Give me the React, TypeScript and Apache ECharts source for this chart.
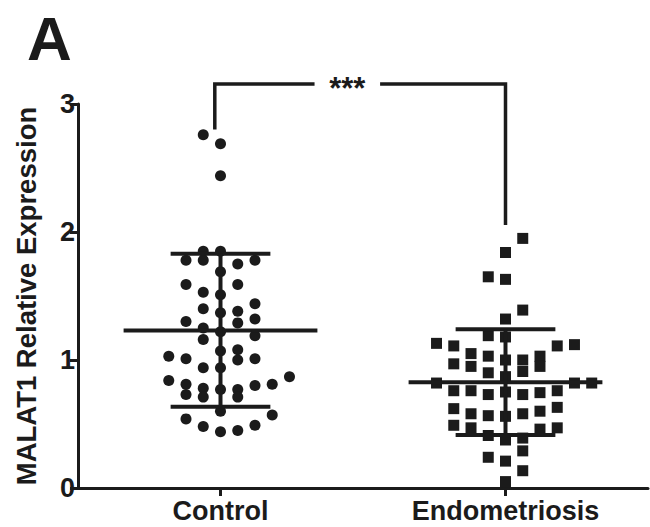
import React, { useEffect, useRef } from "react";
import * as echarts from "echarts";

const categories = ["Control", "Endometriosis"];
const groupCenters = [1, 3];
const yTicks = [0, 1, 2, 3];
const JITTER = 0.121;

// [column offset, value]
const controlPoints: number[][] = [
  [-1, 2.76], [0, 2.69], [0, 2.44], [-1, 1.85], [0, 1.85], [-2, 1.78], [-1, 1.78], [1, 1.75], [2, 1.78],
  [0, 1.69], [-2, 1.59], [-1, 1.53], [1, 1.59], [0, 1.51], [-1, 1.40], [2, 1.44], [0, 1.37], [1, 1.38],
  [2, 1.32], [-2, 1.30], [1, 1.29], [-1, 1.25], [0, 1.22], [-1, 1.16], [2, 1.19], [0, 1.07], [1, 1.08],
  [-3, 1.03], [-2, 1.01], [1, 1.0], [2, 1.01], [-1, 0.94], [0, 0.94], [4, 0.87], [-3, 0.84], [3, 0.81],
  [-2, 0.81], [2, 0.80], [-1, 0.78], [0, 0.77], [1, 0.77], [-2, 0.73], [-1, 0.71], [1, 0.71], [0, 0.60],
  [-2, 0.54], [3, 0.57], [-1, 0.48], [2, 0.49], [0, 0.44], [1, 0.45],
];

const endoPoints: number[][] = [
  [1, 1.95], [0, 1.84], [-1, 1.65], [0, 1.63], [1, 1.39], [0, 1.32], [-1, 1.19], [0, 1.18], [-4, 1.13],
  [-3, 1.11], [3, 1.11], [4, 1.12], [-2, 1.05], [2, 1.03], [2, 0.95], [1, 1.0], [1, 0.91], [-1, 1.03],
  [-3, 0.97], [-2, 0.95], [0, 1.0], [-1, 0.9], [0, 0.87], [-4, 0.82], [4, 0.82], [5, 0.82], [-3, 0.76],
  [-2, 0.76], [-1, 0.73], [1, 0.73], [2, 0.745], [3, 0.76], [0, 0.75], [-3, 0.62], [-2, 0.58], [-1, 0.565],
  [1, 0.58], [2, 0.6], [3, 0.63], [0, 0.56], [-3, 0.49], [-2, 0.47], [3, 0.47], [2, 0.46], [-1, 0.41],
  [0, 0.375], [1, 0.39], [1, 0.29], [-1, 0.24], [0, 0.21], [1, 0.135], [0, 0.05],
];

const means = [1.23, 0.826];
const sdUpper = [1.83, 1.24];
const sdLower = [0.635, 0.414];

// significance bracket: [leftX, leftBottom, barY, rightX, rightBottom]
const bracket = [0.96, 2.8, 3.156, 3.0, 2.055];
const bracketGap = [1.66, 2.12];
const sigLabel = "***";

const INK = "#1b1b1b";
const FONT = "'Liberation Sans', Arial, Helvetica, sans-serif";

export default function App() {
  const ref = useRef<HTMLDivElement>(null);
  useEffect(() => {
    if (!ref.current) return;
    const chart = echarts.init(ref.current, null, { renderer: "svg" });
    const toXY = (pts: number[][], c: number) => pts.map((p) => [c + p[0] * JITTER, p[1]]);

    chart.setOption({
      animation: false,
      grid: { left: 78, right: 2, top: 104, bottom: 39, containLabel: false },
      xAxis: {
        type: "value",
        min: 0,
        max: 4,
        axisLine: { show: true, onZero: false, lineStyle: { color: INK, width: 3 } },
        axisTick: { show: true, customValues: groupCenters, length: 8, lineStyle: { color: INK, width: 3 } },
        axisLabel: {
          customValues: groupCenters,
          formatter: (v: number) => categories[groupCenters.indexOf(v)] ?? "",
          color: INK,
          fontFamily: FONT,
          fontWeight: "bold",
          fontSize: 27,
          margin: 9,
        },
        splitLine: { show: false },
      },
      yAxis: {
        type: "value",
        min: yTicks[0],
        max: yTicks[yTicks.length - 1],
        interval: 1,
        name: "MALAT1 Relative Expression",
        nameLocation: "middle",
        nameGap: 38,
        nameTextStyle: { color: INK, fontFamily: FONT, fontWeight: "bold", fontSize: 27.5 },
        axisLine: { show: true, lineStyle: { color: INK, width: 3 } },
        axisTick: { show: true, length: 8, lineStyle: { color: INK, width: 3 } },
        axisLabel: { color: INK, fontFamily: FONT, fontWeight: "bold", fontSize: 27, margin: 3 },
        splitLine: { show: false },
      },
      graphic: [
        {
          type: "text",
          left: 27,
          top: 7,
          style: { text: "A", font: `bold 62px ${FONT}`, fill: INK },
        },
      ],
      series: [
        {
          type: "scatter",
          symbol: "circle",
          symbolSize: 11,
          itemStyle: { color: INK, opacity: 1 },
          data: toXY(controlPoints, groupCenters[0]),
          z: 2,
        },
        {
          type: "scatter",
          symbol: "rect",
          symbolSize: 11,
          itemStyle: { color: INK, opacity: 1 },
          data: toXY(endoPoints, groupCenters[1]),
          z: 2,
        },
        {
          type: "custom",
          z: 3,
          clip: false,
          data: groupCenters.map((c, i) => [c, means[i], sdLower[i], sdUpper[i]]),
          renderItem: (_p: any, api: any) => {
            const c = api.value(0);
            const m = api.value(1);
            const lo = api.value(2);
            const hi = api.value(3);
            const style = { stroke: INK, lineWidth: 4 };
            const seg = (a: number[], b: number[]) => {
              const p1 = api.coord(a);
              const p2 = api.coord(b);
              return { type: "line", shape: { x1: p1[0], y1: p1[1], x2: p2[0], y2: p2[1] }, style };
            };
            const meanHalf = 0.68;
            const capHalf = 0.35;
            return {
              type: "group",
              children: [
                seg([c - meanHalf, m], [c + meanHalf, m]),
                seg([c - capHalf, hi], [c + capHalf, hi]),
                seg([c - capHalf, lo], [c + capHalf, lo]),
                seg([c, lo], [c, hi]),
              ],
            };
          },
        },
        {
          type: "custom",
          z: 3,
          clip: false,
          data: [bracket],
          renderItem: (_p: any, api: any) => {
            const lx = api.value(0);
            const lb = api.value(1);
            const by = api.value(2);
            const rx = api.value(3);
            const rb = api.value(4);
            const style = { stroke: INK, lineWidth: 3.5, fill: "none" };
            const left = [api.coord([lx, lb]), api.coord([lx, by]), api.coord([bracketGap[0], by])];
            const right = [api.coord([bracketGap[1], by]), api.coord([rx, by]), api.coord([rx, rb])];
            const mid = api.coord([(bracketGap[0] + bracketGap[1]) / 2, by]);
            return {
              type: "group",
              children: [
                { type: "polyline", shape: { points: left }, style },
                { type: "polyline", shape: { points: right }, style },
                {
                  type: "text",
                  x: mid[0],
                  y: mid[1] + 4,
                  style: {
                    text: sigLabel,
                    font: `bold 31px ${FONT}`,
                    fill: INK,
                    align: "center",
                    verticalAlign: "middle",
                  },
                },
              ],
            };
          },
        },
      ],
    });
    return () => chart.dispose();
  }, []);

  return (
    <div
      ref={ref}
      style={{ position: "fixed", left: 0, top: 0, width: 650, height: 527, background: "#fff" }}
    />
  );
}
